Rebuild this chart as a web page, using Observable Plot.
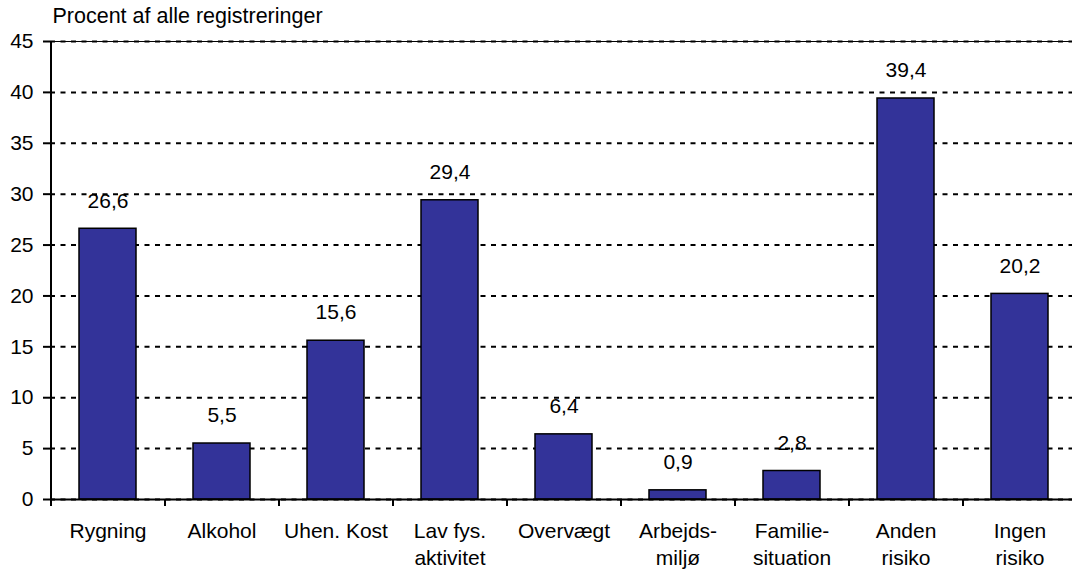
<!DOCTYPE html>
<html>
<head>
<meta charset="utf-8">
<script src="https://cdn.jsdelivr.net/npm/d3@7"></script>
<script src="https://cdn.jsdelivr.net/npm/@observablehq/plot@0.6"></script>
<style>
  html, body { margin: 0; padding: 0; background: #fff; }
  svg { display: block; font-family: "Liberation Sans", Arial, sans-serif; }
</style>
</head>
<body>
<div id="chart"></div>
<script>
const categories = ["Rygning", "Alkohol", "Uhen. Kost", "Lav fys.\naktivitet", "Overvægt", "Arbejds-\nmiljø", "Familie-\nsituation", "Anden\nrisiko", "Ingen\nrisiko"];
const values = [26.6, 5.5, 15.6, 29.4, 6.4, 0.9, 2.8, 39.4, 20.2];
const yTicks = [0, 5, 10, 15, 20, 25, 30, 35, 40, 45];
const yLabel = "Procent af alle registreringer";

const data = categories.map((c, i) => ({cat: c, value: values[i]}));
const fmt = v => v.toFixed(1).replace(".", ",");

const W = 1072, H = 571, ML = 50, MR = -4;
const step = (W - ML - MR) / categories.length;
const FS = 21;

const chart = Plot.plot({
  width: W,
  height: H,
  marginLeft: ML,
  marginRight: MR,
  marginTop: 41,
  marginBottom: 72,
  style: {fontFamily: "'Liberation Sans', Arial, sans-serif", fontSize: FS + "px", color: "#000", background: "#fff"},
  x: {domain: categories, paddingInner: 0.5, paddingOuter: 0.25, align: 0.5},
  y: {domain: [0, 45]},
  marks: [
    Plot.ruleY(yTicks, {y: d => d, stroke: "#000", strokeWidth: 2, strokeDasharray: "5,5.5"}),
    Plot.ruleY([45], {stroke: "#000", strokeWidth: 1}),
    Plot.barY(data, {x: "cat", y: "value", fill: "#333399", stroke: "#000", strokeWidth: 1.5}),
    Plot.text(data, {x: "cat", y: "value", text: d => fmt(d.value), dy: -28, fontSize: FS, fill: "#000"}),
    Plot.ruleY([0], {stroke: "#000", strokeWidth: 2}),
    Plot.ruleX([categories[0]], {x: d => d, y1: 0, y2: 45, dx: -step / 2, stroke: "#000", strokeWidth: 2}),
    Plot.axisY({ticks: yTicks, tickSize: 7, tickPadding: 10, tickFormat: d => d, label: null, fontSize: FS, strokeWidth: 2}),
    Plot.axisX({tickSize: 7, tickFormat: null, dx: -step / 2, strokeWidth: 2, label: null}),
    Plot.axisX({tickSize: 0, tickPadding: 19, lineHeight: 1.3, fontSize: FS, label: null}),
    Plot.text([yLabel], {frameAnchor: "top-left", text: d => d, textAnchor: "start", lineAnchor: "middle", dx: 2, dy: -25, fontSize: 21.5, fill: "#000"})
  ]
});
document.getElementById("chart").appendChild(chart);
</script>
</body>
</html>
